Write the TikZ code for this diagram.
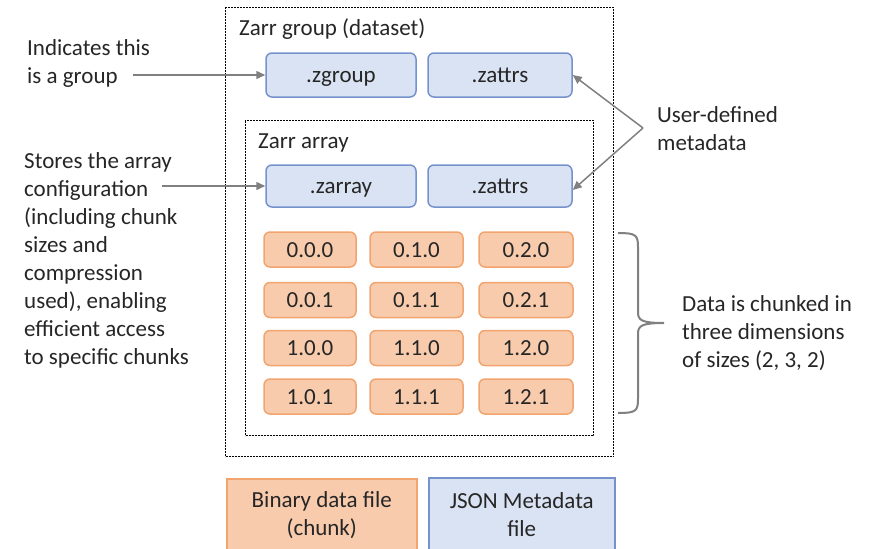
\documentclass[tikz,border=0pt]{standalone}
\usepackage{fontspec}
\setmainfont{Carlito}
\usetikzlibrary{arrows.meta}

\definecolor{metafill}{HTML}{DAE3F3}
\definecolor{metaline}{HTML}{7592CC}
\definecolor{chunkfill}{HTML}{F8CBAD}
\definecolor{chunkline}{HTML}{F2A46E}
\definecolor{pointer}{HTML}{808080}
\definecolor{inktext}{HTML}{262626}

\tikzset{
  txt/.style={font=\fontsize{23}{28}\selectfont, text=inktext, inner sep=0pt},
  container/.style={draw=black, line width=1pt, dash pattern=on 2pt off 1pt,
    inner sep=0pt, anchor=north west},
  metabox/.style={txt, draw=metaline, fill=metafill, line width=1.5pt,
    rounded corners=6pt, text height=20pt, text depth=5pt},
  chunkbox/.style={txt, draw=chunkline, fill=chunkfill, line width=1.5pt,
    rounded corners=6pt, minimum height=35pt, text height=20pt, text depth=5pt},
  legendbox/.style={txt, line width=1.5pt, anchor=north west, align=center},
  pointerline/.style={draw=pointer, line width=1.5pt,
    -{Triangle[length=9pt,width=8pt]}},
}

\begin{document}
\begin{tikzpicture}[x=1pt,y=-1pt]
\useasboundingbox (0,0) rectangle (879,549);

% containers
\node[container, minimum width=388pt, minimum height=449pt] (group) at (225,7) {};
\node[container, minimum width=348pt, minimum height=315pt] (array) at (245,120) {};
\node[txt, anchor=base west] (grouptitle) at (239,35) {Zarr group (dataset)};
\node[txt, anchor=base west] (arraytitle) at (258,148) {Zarr array};

% metadata files
\node[metabox, minimum width=150pt, minimum height=44pt] (zgroup) at (341,75) {.zgroup};
\node[metabox, minimum width=144pt, minimum height=44pt] (zattrsA) at (500,75) {.zattrs};
\node[metabox, minimum width=150pt, minimum height=42pt] (zarray) at (341,186) {.zarray};
\node[metabox, minimum width=144pt, minimum height=42pt] (zattrsB) at (500,186) {.zattrs};

% chunk files
\foreach \lbl/\cx/\cy/\w in {
    0.0.0/310/249.5/92, 0.1.0/416.5/249.5/93, 0.2.0/526/249.5/94,
    0.0.1/310/300/92, 0.1.1/416.5/300/93, 0.2.1/526/300/94,
    1.0.0/310/348/92, 1.1.0/416.5/348/93, 1.2.0/526/348/94,
    1.0.1/310/396.5/92, 1.1.1/416.5/396.5/93, 1.2.1/526/396.5/94} {
  \node[chunkbox, minimum width=\w pt] (c\lbl) at (\cx,\cy) {\lbl};
}

% legend (boxes run past the lower page edge)
\node[legendbox, draw=chunkline, fill=chunkfill, minimum width=190pt,
  minimum height=72pt] (legbin) at (226,478) {Binary data file\\(chunk)};
\node[legendbox, draw=metaline, fill=metafill, minimum width=186pt,
  minimum height=73pt] (legjson) at (428,477) {JSON Metadata\\file};

% annotations on the left (base anchor = last line)
\node[txt, anchor=base west, align=left] (grouptxt) at (27,83)
  {Indicates this\\is a group};
\node[txt, anchor=base west, align=left] (arraytxt) at (24,364)
  {Stores the array\\configuration\\(including chunk\\sizes and\\compression\\used), enabling\\efficient access\\to specific chunks};
\coordinate (groupsrc) at (133,75);
\coordinate (arraysrc) at (162,186);
\draw[pointerline] (groupsrc) -- (zgroup.west);
\draw[pointerline] (arraysrc) -- (zarray.west);

% annotations on the right
\node[txt, anchor=base west, align=left] (usertxt) at (657,150)
  {User-defined\\metadata};
\coordinate (userfork) at (643,128);
\draw[pointerline] (userfork) -- (zattrsA.east);
\draw[pointerline] (userfork) -- ([yshift=-4pt]zattrsB.east);

\node[txt, anchor=base west, align=left] (chunktxt) at (682,367)
  {Data is chunked in\\three dimensions\\of sizes (2, 3, 2)};
\coordinate (bracetop) at (618,233);
\coordinate (bracetip) at (664,323);
\coordinate (bracebot) at (618,413);
\draw[draw=pointer, line width=2pt]
  (bracetop) .. controls (636,233) and (638,235) .. (638,247)
  -- (638,312) .. controls (638,320) and (641,323) .. (bracetip)
  (bracetip) .. controls (641,323) and (638,326) .. (638,334)
  -- (638,399) .. controls (638,411) and (636,413) .. (bracebot);
\end{tikzpicture}
\end{document}
